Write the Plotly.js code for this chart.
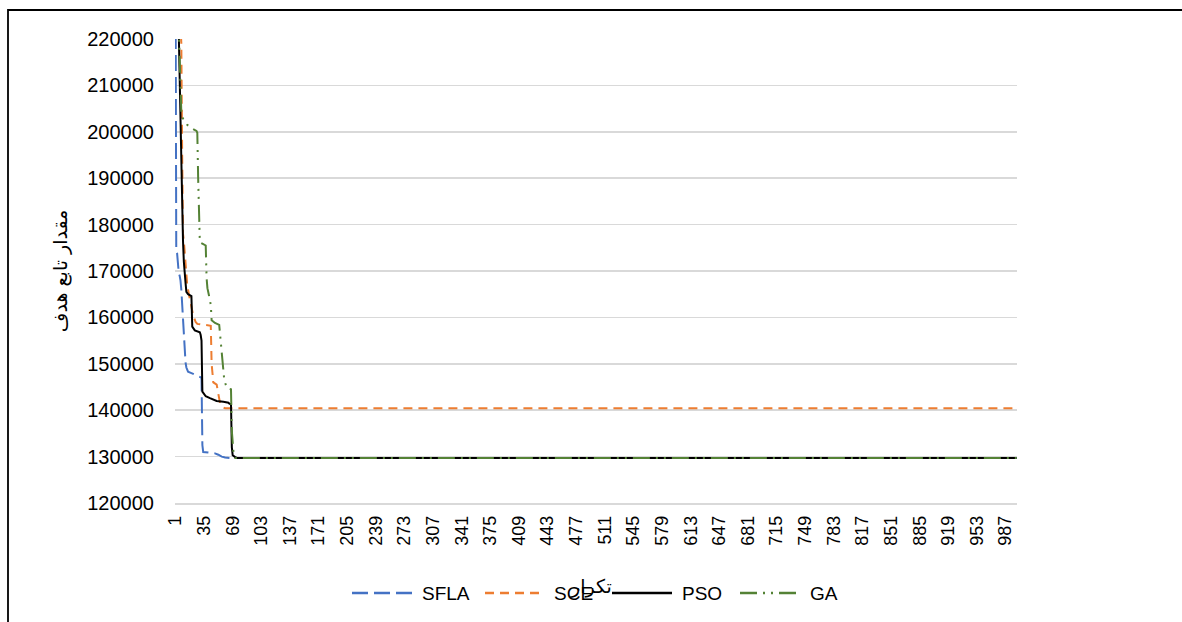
<!DOCTYPE html>
<html>
<head>
<meta charset="utf-8">
<script src="https://cdn.plot.ly/plotly-3.0.1.min.js"></script>
<style>
  html, body { margin: 0; padding: 0; background: #ffffff; }
  #chart { width: 1182px; height: 622px; }
</style>
</head>
<body>
<div id="chart"></div>
<script>
// ---- data ----
const xTickLabels = [1,35,69,103,137,171,205,239,273,307,341,375,409,443,477,511,545,579,613,647,681,715,749,783,817,851,885,919,953,987];

const sflaIter = [1,2,3,4,5,6,7,8,9,10,11,12,13,14,15,16,20,24,28,32,33,34,40,48,52,56,60,66,1000];
const sflaVal  = [245000,174200,173800,170000,169500,169000,168000,166000,163000,160000,156000,152500,150300,149200,148600,148300,148000,147700,147400,147000,132500,131000,130900,130700,130400,130000,129800,129700,129700];

const sceIter = [1,7,8,9,10,11,12,13,15,17,19,22,25,27,35,43,44,45,46,50,52,54,57,60,1000];
const sceVal  = [250000,224000,219000,195000,178000,176500,174000,170500,167000,165000,163000,160500,159000,158600,158400,158200,150000,147000,146000,145500,143500,141500,140700,140400,140400];

const psoIter = [1,4,5,6,7,8,9,10,11,12,13,14,16,20,21,24,30,31,32,33,35,37,42,50,58,64,65,67,68,69,72,74,1000];
const psoVal  = [250000,235000,221000,211000,201000,191000,181000,176500,172000,168700,167500,165500,165000,164600,158000,157200,156800,156200,155000,144000,143600,143000,142600,142000,141800,141600,141400,141300,132000,130300,129900,129700,129700];

const gaIter = [1,4,5,6,7,8,9,11,15,20,26,27,28,29,30,33,37,38,39,41,43,44,48,53,55,57,59,62,67,68,69,70,72,1000];
const gaVal  = [250000,235000,222000,214000,208000,204300,203200,202500,201500,200800,200200,199800,190000,181000,176200,175900,175500,168500,166300,164600,162700,159400,158800,158400,154000,149500,146500,144800,144500,135500,132500,130800,129700,129700];

const seriesNames = ['SFLA','SCE','PSO','GA'];
const yTitle = 'مقدار تابع هدف';
const xTitle = 'تکرار';

// ---- styles ----
const baseFont = 'Liberation Sans, DejaVu Sans, sans-serif';
const styles = [
  {color: '#4472C4', width: 2, dash: '16px,6px'},
  {color: '#ED7D31', width: 2, dash: '9px,6px'},
  {color: '#000000', width: 2, dash: 'solid'},
  {color: '#548235', width: 2, dash: '17px,6px,2px,6px,2px,6px'}
];
const seriesX = [sflaIter, sceIter, psoIter, gaIter];
const seriesY = [sflaVal, sceVal, psoVal, gaVal];

const traces = seriesNames.map((n, k) => ({
  x: seriesX[k], y: seriesY[k], name: n, mode: 'lines', line: styles[k], showlegend: false
}));

// plot-area geometry (pixels) used to place the legend, frame and titles
const PL = 175, PR = 1017, PT = 39, PB = 503;
const px = v => (v - PL) / (PR - PL);
const py = v => (PB - v) / (PB - PT);

// custom legend (long line samples, as in the reference)
const legendPos = [{x0: 352, x1: 412, tx: 420}, {x0: 485, x1: 542, tx: 552},
                   {x0: 612, x1: 672, tx: 680}, {x0: 740, x1: 800, tx: 808}];
const legendY = 593;
const shapes = [
  {type: 'rect', xref: 'paper', yref: 'paper', x0: px(8), x1: px(1200), y0: py(640), y1: py(10),
   line: {color: '#000000', width: 1.8}, fillcolor: 'rgba(0,0,0,0)', layer: 'below'}
];
const annotations = [];
seriesNames.forEach((n, k) => {
  const p = legendPos[k];
  shapes.push({type: 'line', xref: 'paper', yref: 'paper', x0: px(p.x0), x1: px(p.x1), y0: py(legendY), y1: py(legendY),
               line: {color: styles[k].color, width: 2.5, dash: styles[k].dash}});
  annotations.push({text: n, xref: 'paper', yref: 'paper', x: px(p.tx), y: py(legendY),
                    xanchor: 'left', yanchor: 'middle', showarrow: false,
                    font: {family: baseFont, size: 19, color: '#000000'}});
});
annotations.push({text: xTitle, xref: 'paper', yref: 'paper', x: px(591), y: py(586),
                  xanchor: 'center', yanchor: 'middle', showarrow: false,
                  font: {family: 'DejaVu Sans, sans-serif', size: 19, color: '#000000'}});

const layout = {
  width: 1182, height: 622,
  margin: {l: PL, r: 1182 - PR, t: PT, b: 622 - PB},
  paper_bgcolor: '#ffffff', plot_bgcolor: '#ffffff',
  font: {family: baseFont, size: 18, color: '#000000'},
  showlegend: false,
  xaxis: {
    type: 'linear', range: [0.5, 1000.5],
    tickmode: 'array', tickvals: xTickLabels, ticktext: xTickLabels.map(String),
    tickangle: -90, showgrid: false, zeroline: false,
    showline: true, linecolor: '#d9d9d9', linewidth: 1.5,
    ticks: '', ticklabelstandoff: 4,
    tickfont: {family: baseFont, size: 18, color: '#000000'}
  },
  yaxis: {
    range: [120000, 220000], dtick: 10000, tick0: 120000,
    showgrid: true, gridcolor: '#d9d9d9', gridwidth: 1.5, zeroline: false,
    showline: false, ticks: '', ticklabelstandoff: 20,
    tickformat: 'd',
    tickfont: {family: baseFont, size: 20, color: '#000000'},
    title: {text: yTitle, standoff: 14, font: {family: 'DejaVu Sans, sans-serif', size: 19, color: '#000000'}}
  },
  annotations: annotations,
  shapes: shapes
};

Plotly.newPlot('chart', traces, layout, {displayModeBar: false, staticPlot: true});
</script>
</body>
</html>
